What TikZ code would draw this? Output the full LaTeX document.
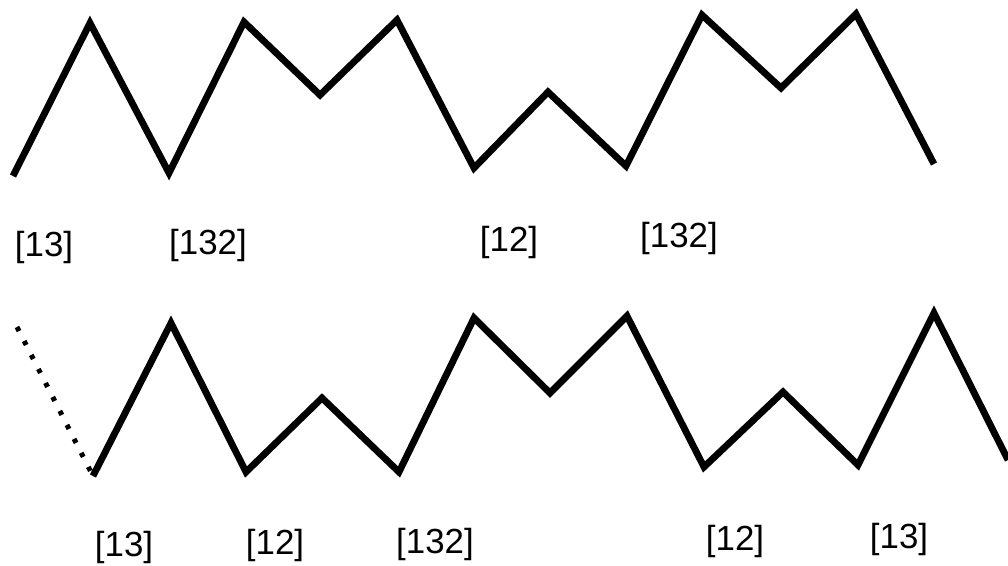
\documentclass[tikz,border=0pt]{standalone}
\usepackage{fontspec}
\setmainfont{Liberation Sans}
\begin{document}
\begin{tikzpicture}[x=1bp,y=-1bp,
  zig/.style={line width=6.8bp,line join=miter,line cap=butt},
  dots/.style={line width=5bp,dash pattern=on 4.5bp off 11.2bp},
  lab/.style={font=\fontsize{35}{40}\selectfont,inner sep=0pt}]
  \useasboundingbox (0,0) rectangle (1008,566);
  % upper row
  \draw[zig] (13,176)--(90,23)--(169,173)--(244,22)--(320,95)--(397,20)--(474,168)
    --(548,92)--(626,166)--(702,15)--(781,88)--(856,14)--(934,164);
  \node[lab] (ua) at (44,247) {[13]};
  \node[lab] (ub) at (208,245) {[132]};
  \node[lab] (uc) at (509,242) {[12]};
  \node[lab] (ud) at (679,238) {[132]};
  % lower row
  \coordinate (s0) at (17,327); \coordinate (s1) at (93,476);
  \draw[dots] (s0)--(s1);
  \draw[zig] (s1)--(171,323)--(246,472)--(322,398)--(399,472)--(474,318)--(550,393)
    --(627,316)--(704,467)--(783,392)--(858,465)--(934,313)--(1008,460);
  \node[lab] (la) at (124,547) {[13]};
  \node[lab] (lb) at (275,545) {[12]};
  \node[lab] (lc) at (435,544) {[132]};
  \node[lab] (ld) at (735,541) {[12]};
  \node[lab] (le) at (899,539) {[13]};
\end{tikzpicture}
\end{document}
